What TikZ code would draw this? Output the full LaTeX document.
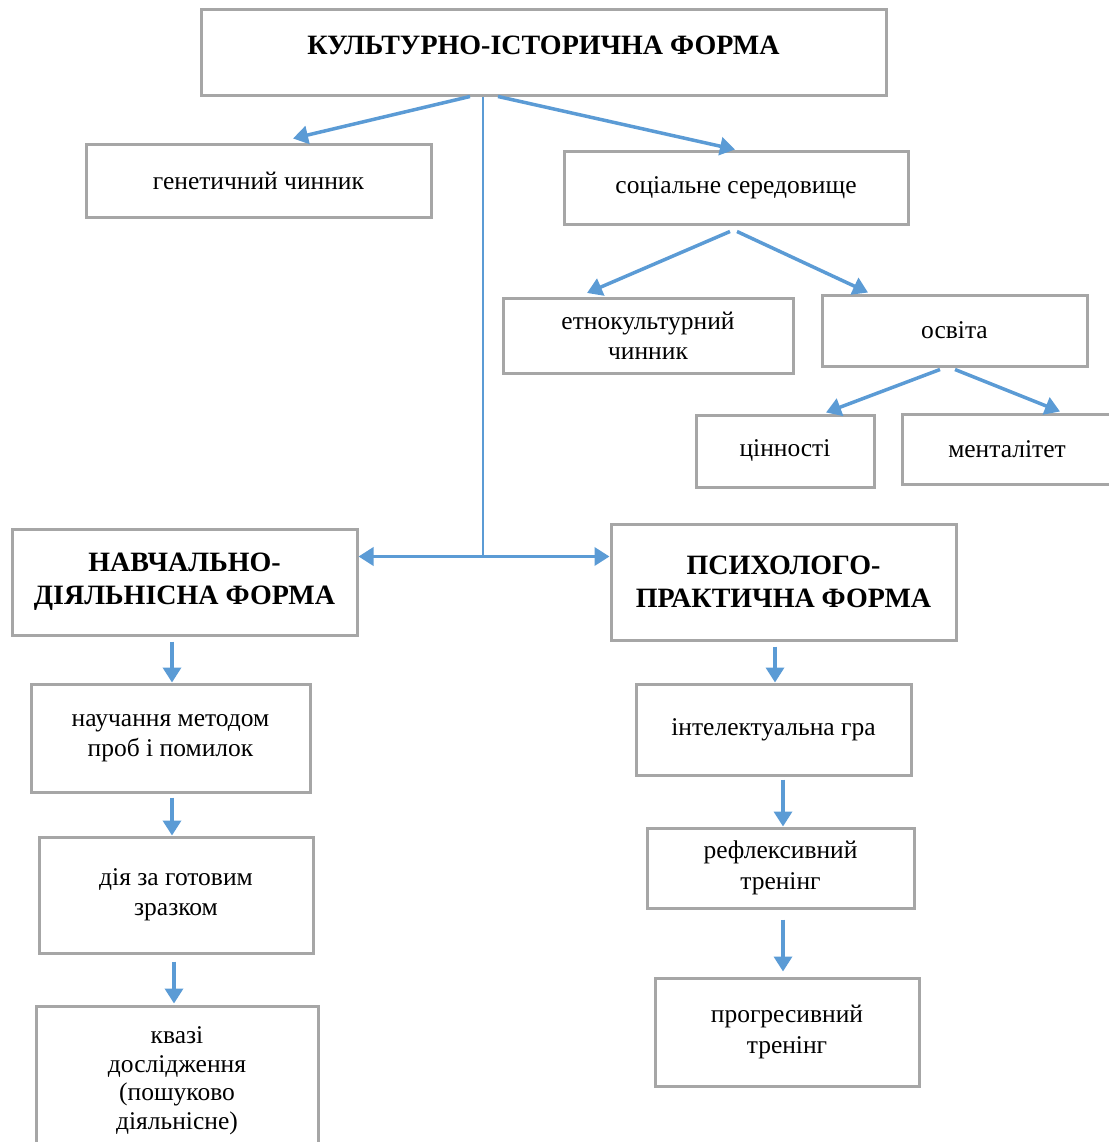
\documentclass[tikz,border=0pt]{standalone}
\usepackage{fontspec}
\setmainfont{Liberation Serif}
\usetikzlibrary{calc,arrows.meta}
\definecolor{boxgray}{HTML}{A6A6A6}
\definecolor{arrblue}{HTML}{5B9BD5}

\begin{document}
\begin{tikzpicture}[
	x=1pt,
	y=-1pt,
	font=\fontsize{25.5}{30.5}\selectfont,
	box/.style={draw=boxgray,line width=3pt,align=center,inner sep=0pt},
	bigbox/.style={box,font=\fontsize{28}{33}\selectfont\bfseries},
	arr/.style={draw=arrblue,line width=3.5pt,-{Triangle[length=15pt,width=18pt]}},
	thin/.style={draw=arrblue,line width=1.2pt}
	]
	\useasboundingbox (0,0) rectangle (1108,1142);
	% top level
	\node[bigbox,minimum width=685,minimum height=86,text depth=16pt] (top) at (543.5,53) {КУЛЬТУРНО-ІСТОРИЧНА ФОРМА};
	\node[box,minimum width=345,minimum height=72] (gen) at (258.5,181) {генетичний чинник};
	\node[box,minimum width=344,minimum height=72] (soc) at (736,188) {соціальне середовище};
	\node[box,minimum width=290,minimum height=75] (etno) at (648,336) {етнокультурний\\чинник};
	\node[box,minimum width=265,minimum height=71] (osv) at (954.5,330.5) {освіта};
	\node[box,minimum width=178,minimum height=72] (cin) at (785,451) {цінності};
	\node[box,minimum width=210,minimum height=70] (ment) at (1007,449) {менталітет};
	% two forms
	\node[bigbox,minimum width=345,minimum height=106] (navch) at (184.5,582) {НАВЧАЛЬНО-\\ДІЯЛЬНІСНА ФОРМА};
	\node[bigbox,minimum width=345,minimum height=116] (psych) at (783.5,582) {ПСИХОЛОГО-\\ПРАКТИЧНА ФОРМА};
	% left column
	\node[box,minimum width=279,minimum height=108] (nauch) at (170.5,738) {научання методом\\проб і помилок};
	\node[box,minimum width=274,minimum height=116] (diya) at (176,895) {дія за готовим\\зразком};
	\node[box,minimum width=282,minimum height=150,font=\fontsize{25.5}{28.5}\selectfont] (kvazi) at (177,1081) {квазі\\дослідження\\(пошуково\\діяльнісне)};
	% right column
	\node[box,minimum width=275,minimum height=91] (intel) at (773.5,729.5) {інтелектуальна гра};
	\node[box,minimum width=267,minimum height=80] (refl) at (780.5,868) {рефлексивний\\тренінг};
	\node[box,minimum width=264,minimum height=108] (progr) at (787,1032) {прогресивний\\тренінг};

	\coordinate (hub) at ($(top.south)+(-60.5,459)$);
	\draw[arr] ($(top.south)+(-73.5,-1)$) to ($(gen.north)+(34.5,-5)$);
	\draw[arr] ($(top.south)+(-45.5,-1)$) to ($(soc.north)+(-1,-1)$);
	\draw[thin] ($(top.south)+(-60.5,0)$) to (hub);
	\draw[arr] (hub) to (hub -| navch.east);
	\draw[arr] (hub) to (hub -| psych.west);
	\draw[arr] ($(soc.south)+(-6,6)$) to ($(etno.north)+(-61,-4)$);
	\draw[arr] ($(soc.south)+(1,6)$) to ($(osv.north)+(-86.5,-1)$);
	\draw[arr] ($(osv.south)+(-14.5,2)$) to ($(cin.north)+(41,-1)$);
	\draw[arr] ($(osv.south)+(0.5,2)$) to ($(ment.north)+(53,-1)$);
	\draw[arr] ($(navch.south)+(-12.5,5)$) to ($(nauch.north)+(1.5,0)$);
	\draw[arr] ($(nauch.south)+(1.5,4)$) to ($(diya.north)+(-4,0)$);
	\draw[arr] ($(diya.south)+(-2,7)$) to ($(kvazi.north)+(-3,-1)$);
	\draw[arr] ($(psych.south)+(-8.5,5)$) to ($(intel.north)+(1.5,0)$);
	\draw[arr] ($(intel.south)+(9.5,3)$) to ($(refl.north)+(2.5,0)$);
	\draw[arr] ($(refl.south)+(2.5,10)$) to ($(progr.north)+(-4,-5)$);
\end{tikzpicture}
\end{document}
